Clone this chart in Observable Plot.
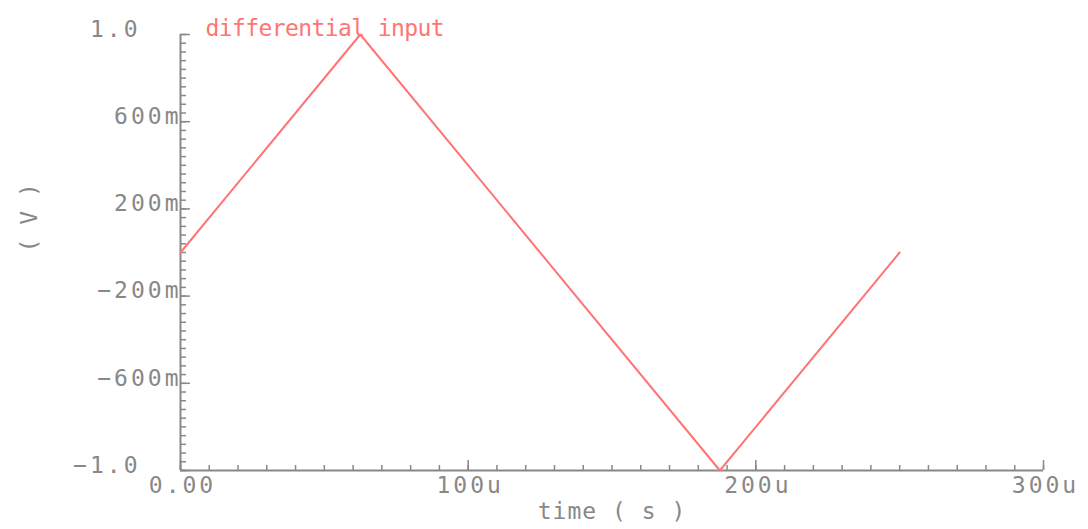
<!DOCTYPE html>
<html><head><meta charset="utf-8">
<script src="https://cdn.jsdelivr.net/npm/d3@7"></script>
<script src="https://cdn.jsdelivr.net/npm/@observablehq/plot@0.6"></script>
<style>body{margin:0;background:#fff} svg{display:block}</style>
</head><body><div id="chart"></div>
<script>
const seriesName = "differential input";
const timeUs = [0, 62.5, 187.5, 250];
const volts = [0, 1.0, -1.0, 0];
const xTickValues = [0, 100, 200, 300];
const xTickLabels = ["0.00", "100u", "200u", "300u"];
const yTickValues = [1, 0.6, 0.2, -0.2, -0.6, -1];
const yTickLabels = ["1.0", "600m", "200m", "\u2212200m", "\u2212600m", "\u22121.0"];
const xLabel = "time ( s )";
const yLabel = "( V )";

const W = 1088, H = 529, ML = 180, MR = 45, MT = 34, MB = 59;
const IW = W - ML - MR, IH = H - MT - MB;
const gray = "#888888", red = "#ff7474";
const font = "DejaVu Sans Mono";

const series = timeUs.map((t, i) => ({t, v: volts[i]}));
const xMinor = d3.range(0, 301, 10);
const yMinor = d3.range(-25, 26).map(k => k * 0.04);
const yIdx = yTickValues.map((d, i) => i);

const chart = Plot.plot({
  width: W, height: H,
  marginLeft: ML, marginRight: MR, marginTop: MT, marginBottom: MB,
  x: {domain: [0, 300], axis: null},
  y: {domain: [-1, 1], axis: null},
  marks: [
    Plot.tickY(yMinor, {y: d => d, stroke: gray, strokeWidth: 1.5, insetRight: IW - 6}),
    Plot.tickY(yTickValues, {y: d => d, stroke: gray, strokeWidth: 1.5, insetRight: IW - 10}),
    Plot.tickX(xMinor, {x: d => d, stroke: gray, strokeWidth: 1.5, insetTop: IH - 5}),
    Plot.tickX(xTickValues, {x: d => d, stroke: gray, strokeWidth: 1.5, insetTop: IH - 10}),
    Plot.ruleX([0], {stroke: gray, strokeWidth: 2}),
    Plot.ruleY([-1], {stroke: gray, strokeWidth: 2}),
    Plot.line(series, {x: "t", y: "v", stroke: red, strokeWidth: 2}),
    Plot.text(yIdx.filter(i => yTickLabels[i].endsWith("m")), {
      y: i => yTickValues[i], text: i => yTickLabels[i], frameAnchor: "left",
      textAnchor: "end", dx: 1, dy: -5, fill: gray, fontSize: 23, fontFamily: font
    }),
    Plot.text(yIdx.filter(i => !yTickLabels[i].endsWith("m")), {
      y: i => yTickValues[i], text: i => yTickLabels[i], frameAnchor: "left",
      textAnchor: "end", dx: -40, dy: -5, fill: gray, fontSize: 23, fontFamily: font
    }),
    Plot.text(xTickValues, {
      x: d => d, text: (d, i) => xTickLabels[i], frameAnchor: "bottom",
      dy: 22, dx: 2, fill: gray, fontSize: 23, fontFamily: font
    }),
    Plot.text([xLabel], {frameAnchor: "bottom", text: d => d, dy: 48, fill: gray, fontSize: 23, fontFamily: font}),
    Plot.text([yLabel], {frameAnchor: "left", text: d => d, dx: -151, rotate: -90, fill: gray, fontSize: 23, fontFamily: font}),
    Plot.text([seriesName], {frameAnchor: "top-left", text: d => d, textAnchor: "start", dx: 25, dy: -15, fill: red, fontSize: 23, fontFamily: font})
  ]
});
document.getElementById("chart").append(chart);
const texts = chart.querySelectorAll("g[aria-label='text']");
[0, 1, 2].forEach(k => texts[k] && texts[k].setAttribute("letter-spacing", "3"));
texts[3] && texts[3].setAttribute("letter-spacing", "1");
texts[5] && texts[5].setAttribute("letter-spacing", "-0.6");
</script>
</body></html>
